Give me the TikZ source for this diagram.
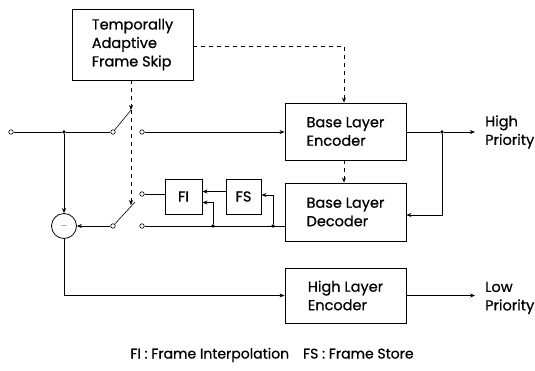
\documentclass[tikz,border=0pt]{standalone}
\usepackage{fontspec}
\setmainfont{Poppins}[FakeBold=0.6]
\usetikzlibrary{arrows.meta,positioning}
\tikzset{
    scheme/.style    = {x=1pt, y=-1pt, >={Stealth[length=5pt,width=4pt]},
                        font=\fontsize{14.5}{18.5}\selectfont},
    line/.style      = {line width=0.6pt},
    ctrl/.style      = {line, dashed, dash pattern=on 4pt off 4pt},
    block/.style     = {draw, line width=0.9pt, align=left, inner sep=0pt},
    sum/.style       = {draw, line width=0.8pt, circle, minimum size=25pt,
                        inner sep=0pt},
    signal/.style    = {circle, fill, inner sep=1.3pt},
    terminal/.style  = {circle, draw, line width=0.6pt, fill=white,
                        inner sep=0pt, minimum size=4.5pt},
    tag/.style       = {align=left, anchor=west, inner sep=0pt}
}

\begin{document}
\begin{tikzpicture}[scheme]
\useasboundingbox (0,0) rectangle (535,370);

% Blocks.
\node[block, minimum width=121pt, minimum height=71pt] (skip) at (132.5,44.5)
    {Temporally\\Adaptive\\Frame Skip};
\node[block, minimum width=121pt, minimum height=57pt] (ble) at (345.5,131.5)
    {Base Layer\\Encoder};
\node[block, minimum width=121pt, minimum height=58pt] (bld) at (345.5,212)
    {Base Layer\\Decoder};
\node[block, minimum width=121pt, minimum height=55pt] (hle) at (345.5,295.5)
    {High Layer\\Encoder};
\node[block, minimum width=37pt, minimum height=35pt] (fi) at (183.5,196.5) {FI};
\node[block, minimum width=35pt, minimum height=35pt] (fs) at (243.5,196.5) {FS};
\node[sum] (diff) at (64,226) {\scriptsize$-$};

% Switches and taps.
\node[terminal] (in) at (11,132) {};
\node[signal] (split) at (64,132) {};
\node[terminal] (sw1-in) at (113,132) {};
\node[terminal] (sw1-out) at (142,132) {};
\coordinate (sw1-tip) at (131,110);
\node[terminal] (sw2-com) at (113,226) {};
\node[terminal] (sw2-up) at (142,194) {};
\node[terminal] (sw2-low) at (142,226) {};
\coordinate (sw2-tip) at (135,202);
\coordinate (ctl2) at (131,205);
\node[signal] (tap-fi) at (213,226) {};
\node[signal] (tap-fs) at (273,226) {};
\node[signal] (tap-hp) at (442,132) {};

\node[tag] (hipri) at (485,132) {High\\Priority};
\node[tag] (lopri) at (485,298) {Low\\Priority};
\node[font=\fontsize{14}{17}\selectfont] (legend) at (272,355)
    {FI : Frame Interpolation\quad FS : Frame Store};

% Signal paths.
\draw[line] (in) -- (split) -- (sw1-in);
\draw[line] (sw1-in) -- (sw1-tip);
\draw[->, line] (sw1-out) -- (sw1-out -| ble.west);
\draw[->, line] (split) -- (diff.north);
\draw[->, line] (sw2-com) -- (diff.east);
\draw[line] (sw2-com) -- (sw2-tip);
\draw[line] (sw2-up) -- (sw2-up -| fi.west);
\draw[line] (sw2-low) -- (sw2-low -| bld.west);
\draw[->, line] (tap-fi) |- ([yshift=-6pt]fi.east);
\draw[->, line] ([yshift=5pt]fs.west) -- ([yshift=5pt]fi.east);
\draw[->, line] (tap-fs) |- ([yshift=1.5pt]fs.east);
\draw[line] (ble.east |- tap-hp) -- (tap-hp);
\draw[->, line] (tap-hp) -- ([xshift=-10pt]hipri.west);
\draw[->, line] (tap-hp) |- ([yshift=-3pt]bld.east);
\draw[->, line] (diff.south) |- (hle.west);
\draw[->, line] (hle.east) -- ([xshift=-10pt]lopri.west |- hle.east);

% Control from the frame skip decision.
\draw[->, ctrl] (skip.east |- 0,46) -| (ble.north -| 344,0);
\draw[->, ctrl] (ble.south -| 344,0) -- (bld.north -| 344,0);
\draw[->, ctrl] (skip.south -| sw1-tip) -- (sw1-tip);
\draw[->, ctrl] (sw1-tip) -- (ctl2);

\end{tikzpicture}
\end{document}
